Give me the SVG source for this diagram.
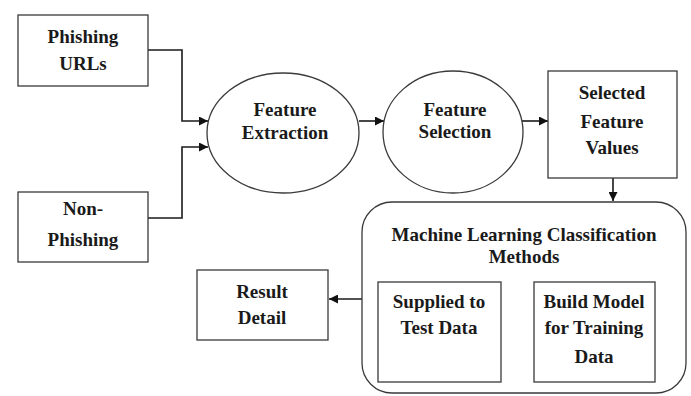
<svg xmlns="http://www.w3.org/2000/svg" width="691" height="396" viewBox="0 0 691 396">
<style>
.box{fill:#fff;stroke:#3a3a3a;stroke-width:1.3}
.t{font-family:"Liberation Serif","Times New Roman",serif;font-weight:bold;font-size:19px;fill:#1a1a1a;text-anchor:middle}
.c{fill:none;stroke:#1a1a1a;stroke-width:1.6}
</style>
<defs>
<marker id="ah" viewBox="0 0 10 10" refX="10" refY="5" markerWidth="9" markerHeight="9" markerUnits="userSpaceOnUse" orient="auto">
<path d="M0,0 L10,5 L0,10 z" fill="#111"/>
</marker>
</defs>
<rect width="691" height="396" fill="#fff"/>
<g id="connectors">
<path class="c" d="M148,50 H182 V121 H208" marker-end="url(#ah)"/>
<path class="c" d="M148,218 H182 V147 H208" marker-end="url(#ah)"/>
<path class="c" d="M359,121 H384" marker-end="url(#ah)"/>
<path class="c" d="M522,121 H548" marker-end="url(#ah)"/>
<path class="c" d="M613,178 V201" marker-end="url(#ah)"/>
<path class="c" d="M362,299 H329" marker-end="url(#ah)"/>
<path class="c" d="M534,327 H502" marker-end="url(#ah)"/>
</g>
<g id="phishing-urls">
<rect class="box" x="18" y="15" width="130" height="71"/>
<text class="t" x="83" y="43">Phishing</text>
<text class="t" x="83" y="70">URLs</text>
</g>
<g id="non-phishing">
<rect class="box" x="18" y="192" width="130" height="70"/>
<text class="t" x="83" y="215">Non-</text>
<text class="t" x="83" y="246">Phishing</text>
</g>
<g id="feature-extraction">
<ellipse class="box" cx="283" cy="133" rx="76" ry="60"/>
<text class="t" x="285" y="116">Feature</text>
<text class="t" x="285" y="139">Extraction</text>
</g>
<g id="feature-selection">
<ellipse class="box" cx="453" cy="132" rx="70" ry="61"/>
<text class="t" x="455" y="116">Feature</text>
<text class="t" x="455" y="138">Selection</text>
</g>
<g id="selected-feature-values">
<rect class="box" x="548" y="71" width="129" height="107"/>
<text class="t" x="612" y="99">Selected</text>
<text class="t" x="612" y="128">Feature</text>
<text class="t" x="612" y="154">Values</text>
</g>
<g id="ml-methods">
<rect class="box" x="362" y="202" width="324" height="191" rx="30" ry="30"/>
<text class="t" x="524" y="241">Machine Learning Classification</text>
<text class="t" x="524" y="263">Methods</text>
</g>
<g id="supplied-test-data">
<rect class="box" x="378" y="282" width="123" height="100"/>
<text class="t" x="439" y="308">Supplied to</text>
<text class="t" x="439" y="334">Test Data</text>
</g>
<g id="build-model">
<rect class="box" x="534" y="282" width="121" height="100"/>
<text class="t" x="594" y="308">Build Model</text>
<text class="t" x="594" y="334">for Training</text>
<text class="t" x="594" y="363">Data</text>
</g>
<g id="result-detail">
<rect class="box" x="197" y="270" width="131" height="70"/>
<text class="t" x="262" y="298">Result</text>
<text class="t" x="262" y="324">Detail</text>
</g>
</svg>
